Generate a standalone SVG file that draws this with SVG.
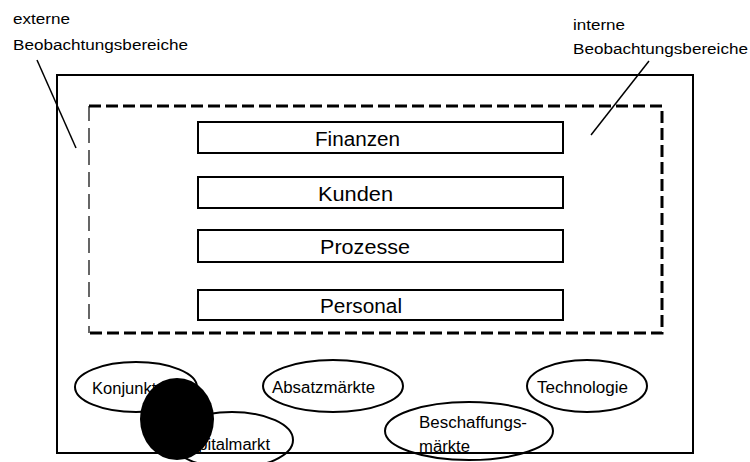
<svg xmlns="http://www.w3.org/2000/svg" width="750" height="462" viewBox="0 0 750 462">
<style>
text{font-family:"Liberation Sans",Arial,sans-serif;fill:#000}
.lbl{font-size:15.5px}
.box{fill:#fff;stroke:#000;stroke-width:2}
.box-t{font-size:20px;text-anchor:start}
.ell{fill:none;stroke:#000;stroke-width:2}
.ell-t{font-size:16px}
.dash{fill:none;stroke:#000;stroke-width:3;stroke-dasharray:12 5}
</style>
<rect width="750" height="462" fill="#fff"/>
<g id="outer">
<rect x="57" y="75" width="636" height="378" fill="none" stroke="#000" stroke-width="2"/>
</g>
<g id="internal-area">
<path class="dash" d="M89,106 H662 V333 H89"/>
<line x1="89" y1="106" x2="89" y2="333" stroke="#000" stroke-width="1.2" stroke-dasharray="15 7"/>
</g>
<g id="label-extern">
<text class="lbl" x="13" y="24" textLength="57" lengthAdjust="spacingAndGlyphs">externe</text>
<text class="lbl" x="13" y="50" textLength="175" lengthAdjust="spacingAndGlyphs">Beobachtungsbereiche</text>
</g>
<g id="label-intern">
<text class="lbl" x="573" y="30" textLength="52" lengthAdjust="spacingAndGlyphs">interne</text>
<text class="lbl" x="573" y="54" textLength="175" lengthAdjust="spacingAndGlyphs">Beobachtungsbereiche</text>
</g>
<g id="connectors">
<line x1="37" y1="60" x2="76" y2="148" stroke="#000" stroke-width="1.5"/>
<line x1="649" y1="61" x2="591" y2="135" stroke="#000" stroke-width="1.5"/>
</g>
<g id="finanzen">
<rect class="box" x="198" y="122" width="365" height="31"/>
<text class="box-t" x="315" y="146" textLength="85" lengthAdjust="spacingAndGlyphs">Finanzen</text>
</g>
<g id="kunden">
<rect class="box" x="198" y="177" width="365" height="31"/>
<text class="box-t" x="318" y="201" textLength="75" lengthAdjust="spacingAndGlyphs">Kunden</text>
</g>
<g id="prozesse">
<rect class="box" x="198" y="230" width="365" height="32"/>
<text class="box-t" x="320" y="254" textLength="90" lengthAdjust="spacingAndGlyphs">Prozesse</text>
</g>
<g id="personal">
<rect class="box" x="198" y="290" width="365" height="30"/>
<text class="box-t" x="320" y="313" textLength="82" lengthAdjust="spacingAndGlyphs">Personal</text>
</g>
<g id="konjunktur">
<ellipse class="ell" cx="136" cy="387" rx="61" ry="25"/>
<text class="ell-t" x="92" y="394" textLength="79" lengthAdjust="spacingAndGlyphs">Konjunktur</text>
</g>
<g id="kapitalmarkt">
<ellipse class="ell" cx="232" cy="440" rx="61" ry="28"/>
<text class="ell-t" x="178" y="450" textLength="92" lengthAdjust="spacingAndGlyphs">Kapitalmarkt</text>
</g>
<g id="absatzmaerkte">
<ellipse class="ell" cx="333" cy="386" rx="70" ry="26"/>
<text class="ell-t" x="272" y="393" textLength="103" lengthAdjust="spacingAndGlyphs">Absatzmärkte</text>
</g>
<g id="beschaffungsmaerkte">
<ellipse class="ell" cx="469" cy="431" rx="84" ry="29"/>
<text class="ell-t" x="419" y="428" textLength="108" lengthAdjust="spacingAndGlyphs">Beschaffungs-</text>
<text class="ell-t" x="419" y="452" textLength="51" lengthAdjust="spacingAndGlyphs">märkte</text>
</g>
<g id="technologie">
<ellipse class="ell" cx="587" cy="386" rx="60" ry="26"/>
<text class="ell-t" x="537" y="393" textLength="91" lengthAdjust="spacingAndGlyphs">Technologie</text>
</g>
<g id="blob">
<ellipse cx="177" cy="419" rx="37" ry="41" fill="#000"/>
</g>
</svg>
